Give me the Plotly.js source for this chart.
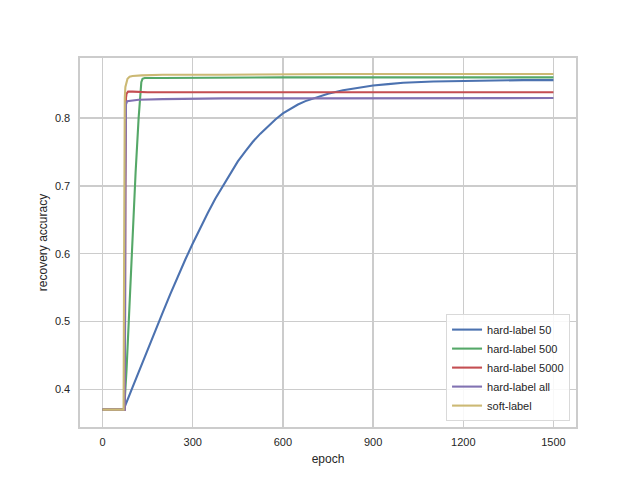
<!DOCTYPE html>
<html>
<head>
<meta charset="utf-8">
<script src="https://cdn.plot.ly/plotly-3.0.1.min.js"></script>
<style>html,body{margin:0;padding:0;background:#fff}#chart{width:640px;height:480px}</style>
</head>
<body>
<div id="chart"></div>
<script>
const seriesNames = ["hard-label 50", "hard-label 500", "hard-label 5000", "hard-label all", "soft-label"];
const seriesColors = ["#4C72B0", "#55A868", "#C44E52", "#8172B2", "#CCB974"];

const hard50Epoch = [0, 70, 100, 125, 150, 175, 200, 225, 250, 275, 300, 325, 350, 375, 400, 425, 450, 475, 500, 525, 550, 575, 600, 625, 650, 675, 700, 750, 800, 850, 900, 950, 1000, 1100, 1200, 1300, 1400, 1500];
const hard50Acc   = [0.370, 0.370, 0.403, 0.431, 0.458, 0.486, 0.513, 0.540, 0.566, 0.591, 0.615, 0.638, 0.660, 0.681, 0.700, 0.719, 0.736, 0.751, 0.765, 0.777, 0.788, 0.798, 0.807, 0.814, 0.820, 0.825, 0.829, 0.836, 0.841, 0.845, 0.848, 0.850, 0.852, 0.854, 0.855, 0.855, 0.856, 0.856];

const hard500Epoch = [0, 72, 80, 90, 100, 110, 120, 125, 129, 133, 140, 200, 400, 600, 800, 1000, 1200, 1500];
const hard500Acc   = [0.370, 0.370, 0.430, 0.530, 0.625, 0.720, 0.800, 0.838, 0.853, 0.858, 0.859, 0.859, 0.860, 0.860, 0.860, 0.860, 0.860, 0.860];

const hard5000Epoch = [0, 74, 76, 77, 78, 80, 85, 100, 150, 300, 600, 900, 1200, 1500];
const hard5000Acc   = [0.370, 0.370, 0.700, 0.800, 0.830, 0.836, 0.839, 0.839, 0.838, 0.838, 0.838, 0.838, 0.838, 0.838];

const hardAllEpoch = [0, 74, 76, 77, 78, 82, 120, 200, 400, 700, 1000, 1500];
const hardAllAcc   = [0.370, 0.370, 0.700, 0.800, 0.820, 0.825, 0.827, 0.828, 0.829, 0.829, 0.829, 0.8295];

const softEpoch = [0, 70, 72, 73, 74, 76, 79, 83, 90, 100, 130, 200, 400, 600, 800, 1000, 1200, 1500];
const softAcc   = [0.370, 0.370, 0.620, 0.780, 0.830, 0.846, 0.854, 0.858, 0.861, 0.862, 0.863, 0.864, 0.864, 0.865, 0.865, 0.865, 0.865, 0.865];

const xTicks = [0, 300, 600, 900, 1200, 1500];
const yTicks = [0.4, 0.5, 0.6, 0.7, 0.8];

const xs = [hard50Epoch, hard500Epoch, hard5000Epoch, hardAllEpoch, softEpoch];
const ys = [hard50Acc, hard500Acc, hard5000Acc, hardAllAcc, softAcc];

const traces = seriesNames.map((n, i) => ({
  type: "scatter", mode: "lines", name: n,
  x: xs[i], y: ys[i],
  line: {color: seriesColors[i], width: 2.1}
}));

const font = {family: "Liberation Sans, Arial, sans-serif", color: "#262626"};

const layout = {
  width: 640, height: 480,
  margin: {l: 80, r: 64, t: 58, b: 53},
  paper_bgcolor: "#ffffff", plot_bgcolor: "#ffffff",
  font: Object.assign({size: 11}, font),
  showlegend: true,
  xaxis: {
    range: [-75, 1575], tickvals: xTicks, ticktext: xTicks.map(String),
    showgrid: true, gridcolor: "#cccccc", gridwidth: 1.3,
    showline: true, mirror: true, linecolor: "#cccccc", linewidth: 1.6,
    zeroline: false, ticks: "", ticklabelstandoff: 4,
    tickfont: Object.assign({size: 11}, font),
    title: {text: "epoch", font: Object.assign({size: 12}, font), standoff: 8}
  },
  yaxis: {
    range: [0.3443, 0.8886], tickvals: yTicks, ticktext: yTicks.map(v => v.toFixed(1)),
    showgrid: true, gridcolor: "#cccccc", gridwidth: 1.3,
    showline: true, mirror: true, linecolor: "#cccccc", linewidth: 1.6,
    zeroline: false, ticks: "", ticklabelstandoff: 6,
    tickfont: Object.assign({size: 11}, font),
    title: {text: "recovery accuracy", font: Object.assign({size: 12}, font), standoff: 5}
  },
  legend: {
    x: 0.988, xanchor: "right", y: 0.016, yanchor: "bottom",
    bgcolor: "rgba(255,255,255,0.85)", bordercolor: "#d9d9d9", borderwidth: 1,
    font: Object.assign({size: 11}, font), itemwidth: 30, tracegroupgap: 0
  }
};

Plotly.newPlot("chart", traces, layout, {displayModeBar: false, staticPlot: true});
</script>
</body>
</html>
